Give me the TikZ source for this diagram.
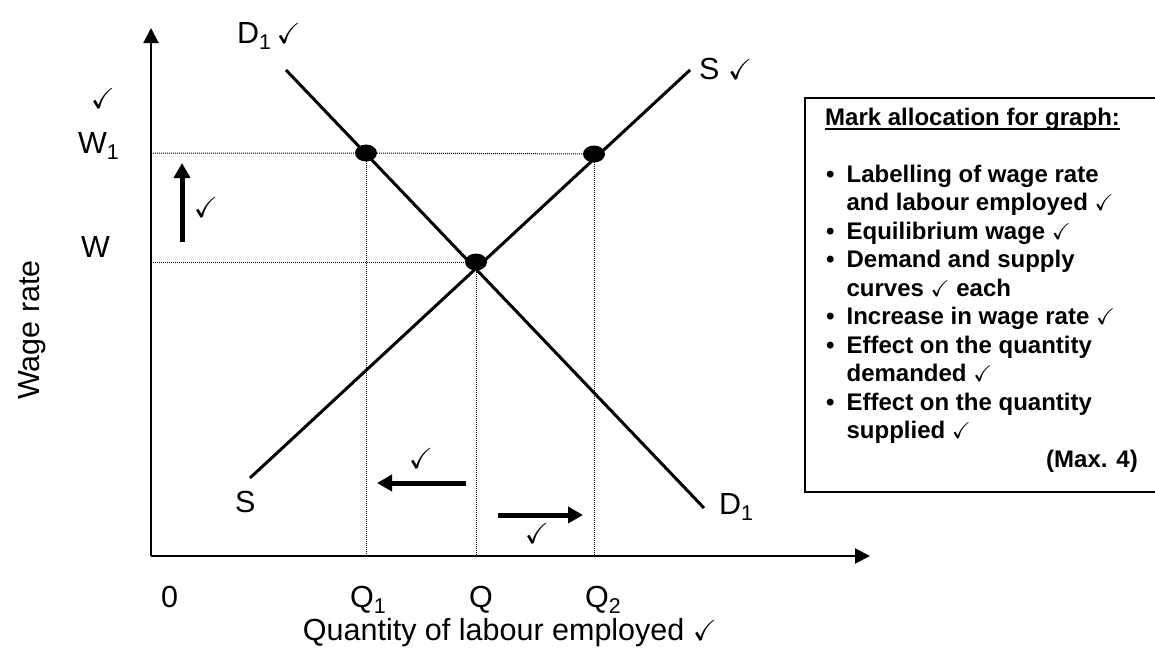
\documentclass[tikz,border=0pt]{standalone}
\usepackage{amsmath,amssymb}
\usepackage{fontspec}
\setmainfont{Liberation Sans}
\usetikzlibrary{arrows.meta,positioning,shapes.geometric}
\newcommand{\tick}{\scalebox{0.95}{$\checkmark$}}
\newcommand{\subn}[1]{\textsubscript{#1}}

\begin{document}
\begin{tikzpicture}[x=1pt, y=-1pt,
    lab/.style={font=\fontsize{30.5}{34}\selectfont, inner sep=0pt},
    curve/.style={line width=3pt},
    guide/.style={line width=1pt, dash pattern=on 1pt off 1pt},
    move/.style={line width=5pt, -{Triangle[length=15pt,width=16pt]}},
    dot/.style={ellipse, fill, inner sep=0pt, minimum width=22pt, minimum height=17pt},
    marks/.style={font=\fontsize{24}{28.5}\selectfont\bfseries, inner sep=0pt}]

    \useasboundingbox (0,0) rectangle (1155,648);

    % axes
    \coordinate (O) at (151,556);
    \coordinate (ytop) at (151,28);
    \coordinate (xend) at (870,556);
    \draw[line width=2pt, -{Triangle[length=15pt,width=15pt]}] (O) -- (ytop);
    \draw[line width=2pt, -{Triangle[length=15pt,width=15pt]}] (O) -- (xend);

    % equilibrium points
    \coordinate (p1) at (366,153);
    \coordinate (p2) at (594,154);
    \coordinate (p) at (476,262);
    \coordinate (w1) at (O |- p1);
    \coordinate (w) at (O |- p);
    \coordinate (q1) at (p1 |- O);
    \coordinate (q) at (p |- O);
    \coordinate (q2) at (p2 |- O);

    % dotted guides
    \draw[guide] (w1) -- (p1) -- (p2);
    \draw[guide] (w) -- (p);
    \draw[guide] (p1) -- (q1);
    \draw[guide] (p) -- (q);
    \draw[guide] (p2) -- (q2);

    % demand and supply
    \coordinate (d1a) at (286,70);
    \coordinate (d1b) at (704,508);
    \coordinate (sa) at (250,478);
    \coordinate (sb) at (690,70);
    \draw[curve] (d1a) -- (d1b);
    \draw[curve] (sa) -- (sb);

    \node[dot] (e1) at (p1) {};
    \node[dot] (e2) at (p2) {};
    \node[dot] (e) at (p) {};

    % labels
    \node[lab, anchor=base west] (d1top) at (237,43) {D\subn{1}\,\tick};
    \node[lab, anchor=base west] (stop) at (699,79) {S \tick};
    \node[lab] (w1tick) at (103,98) {\tick};
    \node[lab, anchor=base west] (w1lab) at (78,153) {W\subn{1}};
    \node[lab, anchor=base west] (wlab) at (81,257) {W};
    \node[lab, anchor=base west] (slow) at (235,512) {S};
    \node[lab, anchor=base west] (d1low) at (719,514) {D\subn{1}};
    \node[lab, anchor=base west] (zero) at (161,607) {0};
    \node[lab, anchor=base west] (q1lab) at (350,607) {Q\subn{1}};
    \node[lab, anchor=base west] (qlab) at (469,607) {Q};
    \node[lab, anchor=base west] (q2lab) at (585,607) {Q\subn{2}};
    \node[lab, anchor=base] (xlab) at (510,640) {Quantity of labour employed \tick};
    \node[lab, rotate=90] (ylab) at (32,330) {Wage rate};

    % shifts
    \coordinate (upa) at (182,242);
    \coordinate (upb) at (182,163);
    \draw[move] (upa) -- (upb);
    \node[lab] (uptick) at (206,207) {\tick};
    \coordinate (lfa) at (466,483);
    \coordinate (lfb) at (377,483);
    \draw[move] (lfa) -- (lfb);
    \node[lab] (lftick) at (421,458) {\tick};
    \coordinate (rta) at (498,515);
    \coordinate (rtb) at (583,515);
    \draw[move] (rta) -- (rtb);
    \node[lab] (rttick) at (537,533) {\tick};

    % mark allocation box
    \draw[line width=2pt] (1155,98) -| (805,492) -- (1155,492);
    \node[marks, anchor=base west] (head) at (825,125) {Mark allocation for graph:};
    \draw[line width=2pt] ([yshift=-4pt]head.base west) -- ([yshift=-4pt]head.base east);
    \node[marks, anchor=base west] (list) at (826,182) {\begin{tabular}[t]{@{}l@{\hspace{12pt}}l@{}}
        \textbullet & Labelling of wage rate\\
                    & and labour employed \tick\\
        \textbullet & Equilibrium wage \tick\\
        \textbullet & Demand and supply\\
                    & curves \tick{} each\\
        \textbullet & Increase in wage rate \tick\\
        \textbullet & Effect on the quantity\\
                    & demanded \tick\\
        \textbullet & Effect on the quantity\\
                    & supplied \tick
    \end{tabular}};
    \node[marks, anchor=base east] (max) at (1138,467) {(Max. 4)};
\end{tikzpicture}
\end{document}
